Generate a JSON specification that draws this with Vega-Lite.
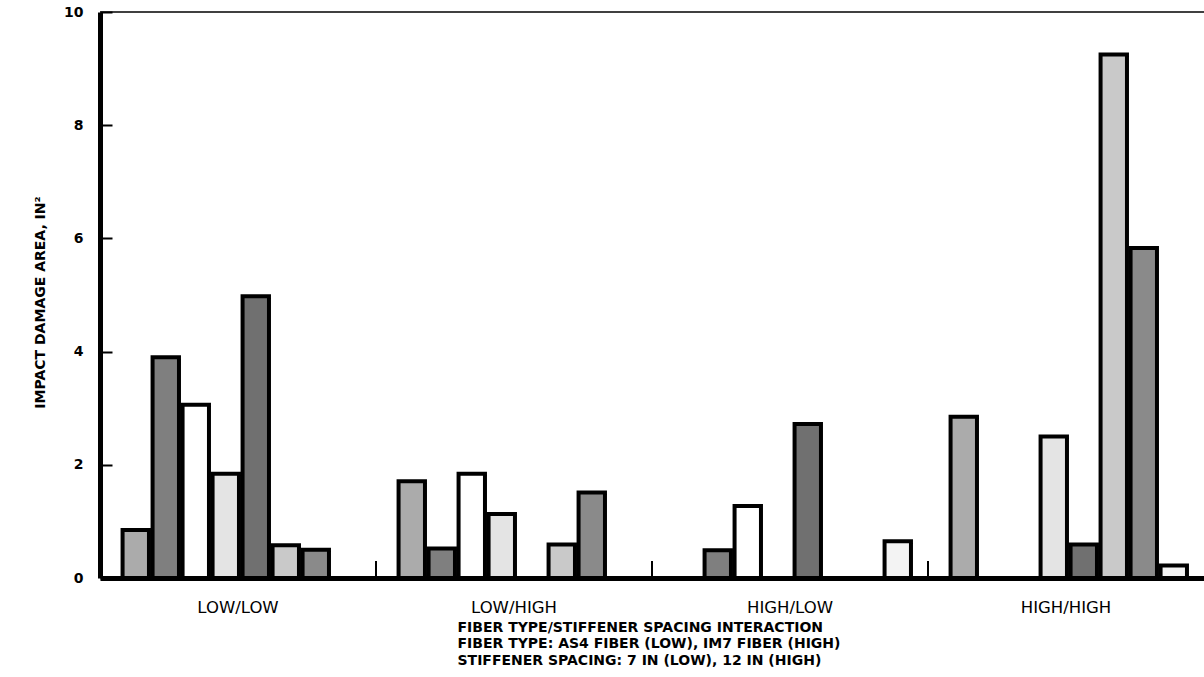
{
  "$schema": "https://vega.github.io/schema/vega-lite/v6.json",
  "width": 1104,
  "height": 566,
  "autosize": {"type": "none"},
  "padding": {"left": 100, "top": 12, "right": 0, "bottom": 99},
  "background": "white",
  "config": {"view": {"stroke": null}},
  "data": {
    "values": [
      {"group": "LOW/LOW", "series": "S1", "value": 0.85},
      {"group": "LOW/LOW", "series": "S2", "value": 3.9},
      {"group": "LOW/LOW", "series": "S3", "value": 3.06},
      {"group": "LOW/LOW", "series": "S4", "value": 1.84},
      {"group": "LOW/LOW", "series": "S5", "value": 4.98},
      {"group": "LOW/LOW", "series": "S6", "value": 0.58},
      {"group": "LOW/LOW", "series": "S7", "value": 0.5},
      {"group": "LOW/HIGH", "series": "S1", "value": 1.71},
      {"group": "LOW/HIGH", "series": "S2", "value": 0.52},
      {"group": "LOW/HIGH", "series": "S3", "value": 1.84},
      {"group": "LOW/HIGH", "series": "S4", "value": 1.13},
      {"group": "LOW/HIGH", "series": "S6", "value": 0.59},
      {"group": "LOW/HIGH", "series": "S7", "value": 1.51},
      {"group": "HIGH/LOW", "series": "S2", "value": 0.49},
      {"group": "HIGH/LOW", "series": "S3", "value": 1.27},
      {"group": "HIGH/LOW", "series": "S5", "value": 2.72},
      {"group": "HIGH/LOW", "series": "S8", "value": 0.65},
      {"group": "HIGH/HIGH", "series": "S1", "value": 2.85},
      {"group": "HIGH/HIGH", "series": "S4", "value": 2.5},
      {"group": "HIGH/HIGH", "series": "S5", "value": 0.59},
      {"group": "HIGH/HIGH", "series": "S6", "value": 9.25},
      {"group": "HIGH/HIGH", "series": "S7", "value": 5.83},
      {"group": "HIGH/HIGH", "series": "S8", "value": 0.22}
    ]
  },
  "layer": [
    {
      "mark": {"type": "bar", "stroke": "black", "strokeWidth": 4, "strokeJoin": "miter"},
      "encoding": {
        "x": {
          "field": "group",
          "type": "nominal",
          "sort": ["LOW/LOW", "LOW/HIGH", "HIGH/LOW", "HIGH/HIGH"],
          "scale": {"paddingInner": 0, "paddingOuter": 0},
          "axis": {
            "title": [
              "FIBER TYPE/STIFFENER SPACING INTERACTION",
              "FIBER TYPE: AS4 FIBER (LOW), IM7 FIBER (HIGH)",
              "STIFFENER SPACING: 7 IN (LOW), 12 IN (HIGH)"
            ],
            "labelAngle": 0,
            "ticks": false,
            "domainWidth": 5,
            "domainColor": "black",
            "labelFont": "DejaVu Sans",
            "labelFontSize": 16.5,
            "labelColor": "black",
            "labelPadding": 21,
            "titleFont": "DejaVu Sans",
            "titleFontWeight": "bold",
            "titleFontSize": 14,
            "titleColor": "black",
            "titleAlign": "left",
            "titleAnchor": "start",
            "titleX": 357,
            "titleY": 42,
            "titleBaseline": "top",
            "titleLineHeight": 16.5
          }
        },
        "xOffset": {
          "field": "series",
          "type": "nominal",
          "scale": {
            "domain": ["S1", "S2", "S3", "S4", "S5", "S6", "S7", "S8"],
            "paddingInner": 0.12,
            "paddingOuter": 0.66,
            "align": 0.57
          }
        },
        "y": {
          "field": "value",
          "type": "quantitative",
          "scale": {"domain": [0, 10], "nice": false},
          "axis": {
            "title": "IMPACT DAMAGE AREA, IN²",
            "values": [0, 2, 4, 6, 8, 10],
            "format": "d",
            "grid": false,
            "tickSize": -12,
            "tickWidth": 2,
            "tickColor": "black",
            "domainWidth": 5,
            "domainColor": "black",
            "labelFont": "DejaVu Sans",
            "labelFontWeight": "bold",
            "labelFontSize": 14,
            "labelColor": "black",
            "labelPadding": 29,
            "titleFont": "DejaVu Sans",
            "titleFontWeight": "bold",
            "titleFontSize": 14,
            "titleColor": "black",
            "titleAngle": -90,
            "titleX": -60,
            "titleY": 290,
            "titleAlign": "center",
            "titleBaseline": "middle"
          }
        },
        "color": {
          "field": "series",
          "type": "nominal",
          "legend": null,
          "scale": {
            "domain": ["S1", "S2", "S3", "S4", "S5", "S6", "S7", "S8"],
            "range": ["#ababab", "#7f7f7f", "#ffffff", "#e4e4e4", "#707070", "#c9c9c9", "#8a8a8a", "#f3f3f3"]
          }
        }
      }
    },
    {
      "data": {"values": [{"group": "LOW/HIGH"}, {"group": "HIGH/LOW"}, {"group": "HIGH/HIGH"}]},
      "mark": {"type": "rule", "color": "black", "strokeWidth": 2},
      "encoding": {
        "x": {"field": "group", "type": "nominal", "bandPosition": 0, "sort": ["LOW/LOW", "LOW/HIGH", "HIGH/LOW", "HIGH/HIGH"]},
        "y": {"datum": 0},
        "y2": {"datum": 0.3}
      }
    },
    {
      "data": {"values": [{"top": 10}]},
      "mark": {"type": "rule", "color": "black", "strokeWidth": 1.5},
      "encoding": {"y": {"field": "top", "type": "quantitative"}}
    }
  ]
}
